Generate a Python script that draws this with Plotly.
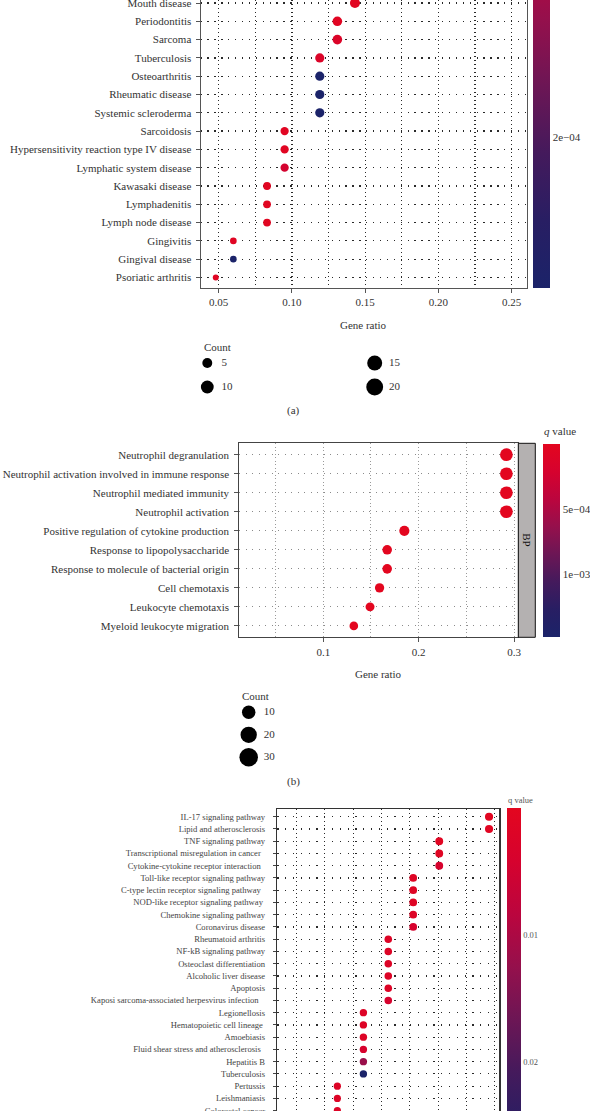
import math
import plotly.graph_objects as go

W, H = 590, 1111
SERIF = "Liberation Serif"

# ---------------- Panel (a): disease enrichment ----------------
a_terms = ["Mouth disease", "Periodontitis", "Sarcoma", "Tuberculosis", "Osteoarthritis",
           "Rheumatic disease", "Systemic scleroderma", "Sarcoidosis",
           "Hypersensitivity reaction type IV disease", "Lymphatic system disease",
           "Kawasaki disease", "Lymphadenitis", "Lymph node disease", "Gingivitis",
           "Gingival disease", "Psoriatic arthritis"]
a_ratio = [0.143, 0.131, 0.131, 0.119, 0.119, 0.119, 0.119, 0.095, 0.095, 0.095,
           0.083, 0.083, 0.083, 0.060, 0.060, 0.048]
a_count = [12, 11, 11, 10, 10, 10, 10, 8, 8, 8, 7, 7, 7, 5, 5, 4]
a_q = [5e-6, 8e-6, 2.5e-5, 2.5e-5, 2.94e-4, 2.94e-4, 2.94e-4, 8e-6, 8e-6, 4.5e-5,
       5e-6, 5e-6, 5e-6, 1e-5, 2.94e-4, 1e-5]
a_qmax = 2.94e-4
a_qticks = [2e-4]
a_qticklabels = ["2e\u221204"]
a_xticks = [0.05, 0.10, 0.15, 0.20, 0.25]
a_xticklabels = ["0.05", "0.10", "0.15", "0.20", "0.25"]
a_legend_counts = [5, 10, 15, 20]

# ---------------- Panel (b): GO BP ----------------
b_terms = ["Neutrophil degranulation", "Neutrophil activation involved in immune response",
           "Neutrophil mediated immunity", "Neutrophil activation",
           "Positive regulation of cytokine production", "Response to lipopolysaccharide",
           "Response to molecule of bacterial origin", "Cell chemotaxis",
           "Leukocyte chemotaxis", "Myeloid leukocyte migration"]
b_ratio = [0.292, 0.292, 0.292, 0.292, 0.185, 0.167, 0.167, 0.159, 0.149, 0.132]
b_count = [28, 28, 28, 28, 18, 16, 16, 15, 14, 13]
b_q = [2e-12, 2e-12, 3e-12, 5e-12, 2e-8, 4e-8, 5e-8, 6e-8, 1e-7, 2e-7]
b_qmax = 1.48e-3
b_qticks = [5e-4, 1e-3]
b_qticklabels = ["5e\u221204", "1e\u221203"]
b_xticks = [0.1, 0.2, 0.3]
b_xticklabels = ["0.1", "0.2", "0.3"]
b_legend_counts = [10, 20, 30]

# ---------------- Panel (c): KEGG ----------------
c_terms = ["IL-17 signaling pathway", "Lipid and atherosclerosis", "TNF signaling pathway",
           "Transcriptional misregulation in cancer", "Cytokine-cytokine receptor interaction",
           "Toll-like receptor signaling pathway", "C-type lectin receptor signaling pathway",
           "NOD-like receptor signaling pathway", "Chemokine signaling pathway",
           "Coronavirus disease", "Rheumatoid arthritis", "NF-kB signaling pathway",
           "Osteoclast differentiation", "Alcoholic liver disease", "Apoptosis",
           "Kaposi sarcoma-associated herpesvirus infection", "Legionellosis",
           "Hematopoietic cell lineage", "Amoebiasis", "Fluid shear stress and atherosclerosis",
           "Hepatitis B", "Tuberculosis", "Pertussis", "Leishmaniasis", "Colorectal cancer"]
c_ratio = [0.220, 0.220, 0.176, 0.176, 0.176, 0.153, 0.153, 0.153, 0.153, 0.153,
           0.131, 0.131, 0.131, 0.131, 0.131, 0.131, 0.109, 0.109, 0.109, 0.109,
           0.109, 0.109, 0.086, 0.086, 0.086]
c_count = [10, 10, 8, 8, 8, 7, 7, 7, 7, 7, 6, 6, 6, 6, 6, 6, 5, 5, 5, 5, 5, 5, 4, 4, 4]
c_q = [0.0005, 0.0008, 0.0008, 0.001, 0.004, 0.0015, 0.0015, 0.0015, 0.002, 0.004,
       0.002, 0.002, 0.002, 0.002, 0.002, 0.004, 0.002, 0.002, 0.002, 0.004,
       0.012, 0.0293, 0.002, 0.002, 0.002]
c_qmax = 0.0293
c_qticks = [0.01, 0.02]
c_qticklabels = ["0.01", "0.02"]
c_label_pad = {"Transcriptional misregulation in cancer": 2,
               "Cytokine-cytokine receptor interaction": 2,
               "C-type lectin receptor signaling pathway": 2,
               "NOD-like receptor signaling pathway": 1,
               "Kaposi sarcoma-associated herpesvirus infection": 3,
               "Fluid shear stress and atherosclerosis": 2,
               "Hematopoietic cell lineage": 1}

# ---------------- styling ----------------
# colour scale: small q (top, red) -> large q (bottom, navy); colour value = -q
top_to_bottom = ["#e3061f", "#d6022e", "#bb053e", "#95104c", "#6c1655", "#441a5c", "#281e63", "#1b2369"]
n = len(top_to_bottom)
CS = [[1 - i / (n - 1), c] for i, c in enumerate(top_to_bottom)][::-1]


def px_x(v):
    return v / W


def px_y(v):
    return 1 - v / H


def font(size, color="#333", **kw):
    d = dict(family=SERIF, size=size, color=color)
    d.update(kw)
    return d


def size_a(c):
    return 0.5 + 2.75 * math.sqrt(c)


def size_a_leg(c):
    return 3 + 3.1 * math.sqrt(c)


def size_b(c):
    return 2.4 * math.sqrt(c)


def size_b_leg(c):
    return 6.5 + 2.2 * math.sqrt(c)


def size_c(c):
    return 5.6 + 0.8 * math.sqrt(c)


def cbar(x_px, top_px, len_px, thick, tv, tt, fsize, tcolor="#333"):
    return dict(x=px_x(x_px), xanchor="left", xpad=0, xref="paper",
                y=px_y(top_px), yanchor="top", ypad=0, yref="paper",
                len=len_px / H, lenmode="fraction", thickness=thick,
                outlinewidth=0, tickmode="array", tickvals=[-v for v in tv], ticktext=tt,
                ticks="", tickfont=font(fsize, tcolor))


fig = go.Figure()

# panel (a)
fig.add_trace(go.Scatter(
    x=a_ratio, y=a_terms, mode="markers", xaxis="x", yaxis="y",
    marker=dict(size=[size_a(c) for c in a_count], color=[-q for q in a_q], opacity=1,
                colorscale=CS, cmin=-a_qmax, cmax=0, line=dict(width=0),
                showscale=True,
                colorbar=cbar(533, -183, 471, 17, a_qticks, a_qticklabels, 11)),
    hoverinfo="skip"))

# panel (b)
fig.add_trace(go.Scatter(
    x=b_ratio, y=b_terms, mode="markers", xaxis="x2", yaxis="y2",
    marker=dict(size=[size_b(c) for c in b_count], color=[-q for q in b_q], opacity=1,
                colorscale=CS, cmin=-b_qmax, cmax=0, line=dict(width=0),
                showscale=True,
                colorbar=cbar(543.3, 444, 192.7, 16.7, b_qticks, b_qticklabels, 11)),
    hoverinfo="skip"))

# panel (c)
fig.add_trace(go.Scatter(
    x=c_ratio, y=c_terms, mode="markers", xaxis="x3", yaxis="y3",
    marker=dict(size=[size_c(c) for c in c_count], color=[-q for q in c_q], opacity=1,
                colorscale=CS, cmin=-c_qmax, cmax=0, line=dict(width=0),
                showscale=True,
                colorbar=cbar(506.7, 808.3, 371.2, 14, c_qticks, c_qticklabels, 8.5, "#555")),
    hoverinfo="skip"))

# size legend (a): two columns of two
a_cols = [i // 2 for i in range(len(a_legend_counts))]
a_rows = [i % 2 for i in range(len(a_legend_counts))]
fig.add_trace(go.Scatter(
    x=a_cols, y=a_rows, mode="markers", xaxis="x4", yaxis="y4", cliponaxis=False,
    marker=dict(size=[size_a_leg(c) for c in a_legend_counts], color="black", opacity=1,
                line=dict(width=0)),
    hoverinfo="skip"))
fig.add_trace(go.Scatter(
    x=[c + 0.085 for c in a_cols], y=a_rows, mode="text", xaxis="x4", yaxis="y4",
    cliponaxis=False, text=[str(c) for c in a_legend_counts], textposition="middle right",
    textfont=font(11), hoverinfo="skip"))

# size legend (b): one column
b_rows = list(range(len(b_legend_counts)))
fig.add_trace(go.Scatter(
    x=[0] * len(b_rows), y=b_rows, mode="markers", xaxis="x5", yaxis="y5", cliponaxis=False,
    marker=dict(size=[size_b_leg(c) for c in b_legend_counts], color="black", opacity=1,
                line=dict(width=0)),
    hoverinfo="skip"))
fig.add_trace(go.Scatter(
    x=[0.15] * len(b_rows), y=b_rows, mode="text", xaxis="x5", yaxis="y5",
    cliponaxis=False, text=[str(c) for c in b_legend_counts], textposition="middle right",
    textfont=font(11), hoverinfo="skip"))

grid_dark = dict(gridcolor="#2a2a2a", gridwidth=1.2)
hidden = dict(visible=False, showgrid=False, zeroline=False, fixedrange=True)
A_COL = 374.7 - 207.3  # px between legend columns in (a)

layout = dict(
    width=W, height=H, margin=dict(l=0, r=0, t=0, b=0, autoexpand=False),
    paper_bgcolor="white", plot_bgcolor="white", showlegend=False,
    font=font(11), hovermode=False,
    # ---- (a)
    xaxis=dict(domain=[px_x(200.5), px_x(527)], range=[0.03758, 0.26044], anchor="y",
               tickmode="array", tickvals=a_xticks, ticktext=a_xticklabels,
               ticks="outside", ticklen=4, tickcolor="#555", tickfont=font(11),
               showline=True, linecolor="#555", linewidth=1, mirror=False,
               showgrid=True, griddash="1.2px,2.8px", **grid_dark, zeroline=False,
               minor=dict(dtick=0.025, tick0=0, showgrid=True, griddash="1.2px,2.8px",
                          gridcolor="#2a2a2a", gridwidth=1.2)),
    yaxis=dict(domain=[px_y(288), 1], range=[-0.575, 15.164], anchor="x", type="category",
               categoryorder="array", categoryarray=a_terms[::-1],
               tickmode="array", tickvals=a_terms, ticktext=a_terms,
               ticks="outside", ticklen=4, tickcolor="#555", tickfont=font(11),
               ticklabelstandoff=2,
               showline=True, linecolor="#555", linewidth=1, mirror=True,
               showgrid=True, griddash="1.3px,5.6px", **grid_dark, zeroline=False),
    # ---- (b)
    xaxis2=dict(domain=[px_x(239.3), px_x(518.3)], range=[0.0119, 0.3045], anchor="y2",
                tickmode="array", tickvals=b_xticks, ticktext=b_xticklabels,
                ticks="outside", ticklen=4, tickcolor="#555", tickfont=font(11),
                showline=True, linecolor="#444", linewidth=1, mirror=True,
                showgrid=True, gridcolor="#9a9a9a", gridwidth=1, griddash="1px,2.5px",
                zeroline=False,
                minor=dict(dtick=0.05, tick0=0, showgrid=True, griddash="1px,2.5px",
                           gridcolor="#9a9a9a", gridwidth=1)),
    yaxis2=dict(domain=[px_y(637.3), px_y(443.3)], range=[-0.6, 9.6], anchor="x2",
                type="category", categoryorder="array", categoryarray=b_terms[::-1],
                tickmode="array", tickvals=b_terms, ticktext=b_terms,
                ticks="outside", ticklen=4, tickcolor="#555", tickfont=font(11),
                ticklabelstandoff=3,
                showline=True, linecolor="#444", linewidth=1, mirror=True,
                showgrid=True, gridcolor="#8a8a8a", gridwidth=1, griddash="1px,5.5px",
                zeroline=False),
    # ---- (c)
    xaxis3=dict(domain=[px_x(277.3), px_x(499.3)], range=[0.03295, 0.22906], anchor="y3",
                tickmode="linear", tick0=0, dtick=0.025, showticklabels=False, ticks="",
                showline=True, linecolor="#333", linewidth=1.5, mirror=True,
                showgrid=True, griddash="1.2px,2.8px", **grid_dark, zeroline=False),
    yaxis3=dict(domain=[0, px_y(809)], range=[-0.03, 24.63], anchor="x3", type="category",
                categoryorder="array", categoryarray=c_terms[::-1],
                tickmode="array", tickvals=c_terms,
                ticktext=[t + "\u00a0" * c_label_pad.get(t, 0) for t in c_terms],
                ticks="outside", ticklen=3, tickcolor="#444", tickfont=font(8.6, "#444"),
                ticklabelstandoff=6,
                showline=True, linecolor="#333", linewidth=1.5, mirror=True,
                showgrid=True, griddash="1.3px,6.5px", **grid_dark, zeroline=False),
    # ---- legend axes
    xaxis4=dict(domain=[px_x(207.3), px_x(207.3 + 1.5 * A_COL)], range=[0, 1.5], anchor="y4", **hidden),
    yaxis4=dict(domain=[px_y(387), px_y(363)], range=[1, 0], anchor="x4", **hidden),
    xaxis5=dict(domain=[px_x(248.7), px_x(348.7)], range=[0, 1], anchor="y5", **hidden),
    yaxis5=dict(domain=[px_y(757.3), px_y(712.3)], range=[2, 0], anchor="x5", **hidden),
)
fig.update_layout(**layout)

# facet strip of panel (b)
fig.add_shape(type="rect", xref="paper", yref="paper",
              x0=px_x(518.3), x1=px_x(535.3), y0=px_y(637.3), y1=px_y(443.3),
              fillcolor="#b4b1b1", line=dict(color="#111", width=1), layer="above")

annos = [
    dict(text="BP", x=px_x(526.8), y=px_y(540), textangle=90, font=font(11, "#111")),
    dict(text="Gene ratio", x=px_x(363.5), y=px_y(325), font=font(11)),
    dict(text="Gene ratio", x=px_x(378.8), y=px_y(674), font=font(11)),
    dict(text="Count", x=px_x(202), y=px_y(347), xanchor="left", font=font(11)),
    dict(text="Count", x=px_x(240), y=px_y(696), xanchor="left", font=font(11)),
    dict(text="(a)", x=px_x(293.5), y=px_y(410.7), font=font(11)),
    dict(text="(b)", x=px_x(293.5), y=px_y(781.3), font=font(11)),
    dict(text="<i>q</i> value", x=px_x(542), y=px_y(431.5), xanchor="left", font=font(11)),
    dict(text="q value", x=px_x(505.5), y=px_y(800), xanchor="left", font=font(8.5, "#555")),
]
for a in annos:
    a.setdefault("xanchor", "center")
    fig.add_annotation(xref="paper", yref="paper", yanchor="middle", showarrow=False, **a)

# the figure fills the whole window, so drop the page's default body margin
fig.write_html("out.html", config={"displayModeBar": False, "staticPlot": True},
               post_script="document.body.style.margin='0px';")
